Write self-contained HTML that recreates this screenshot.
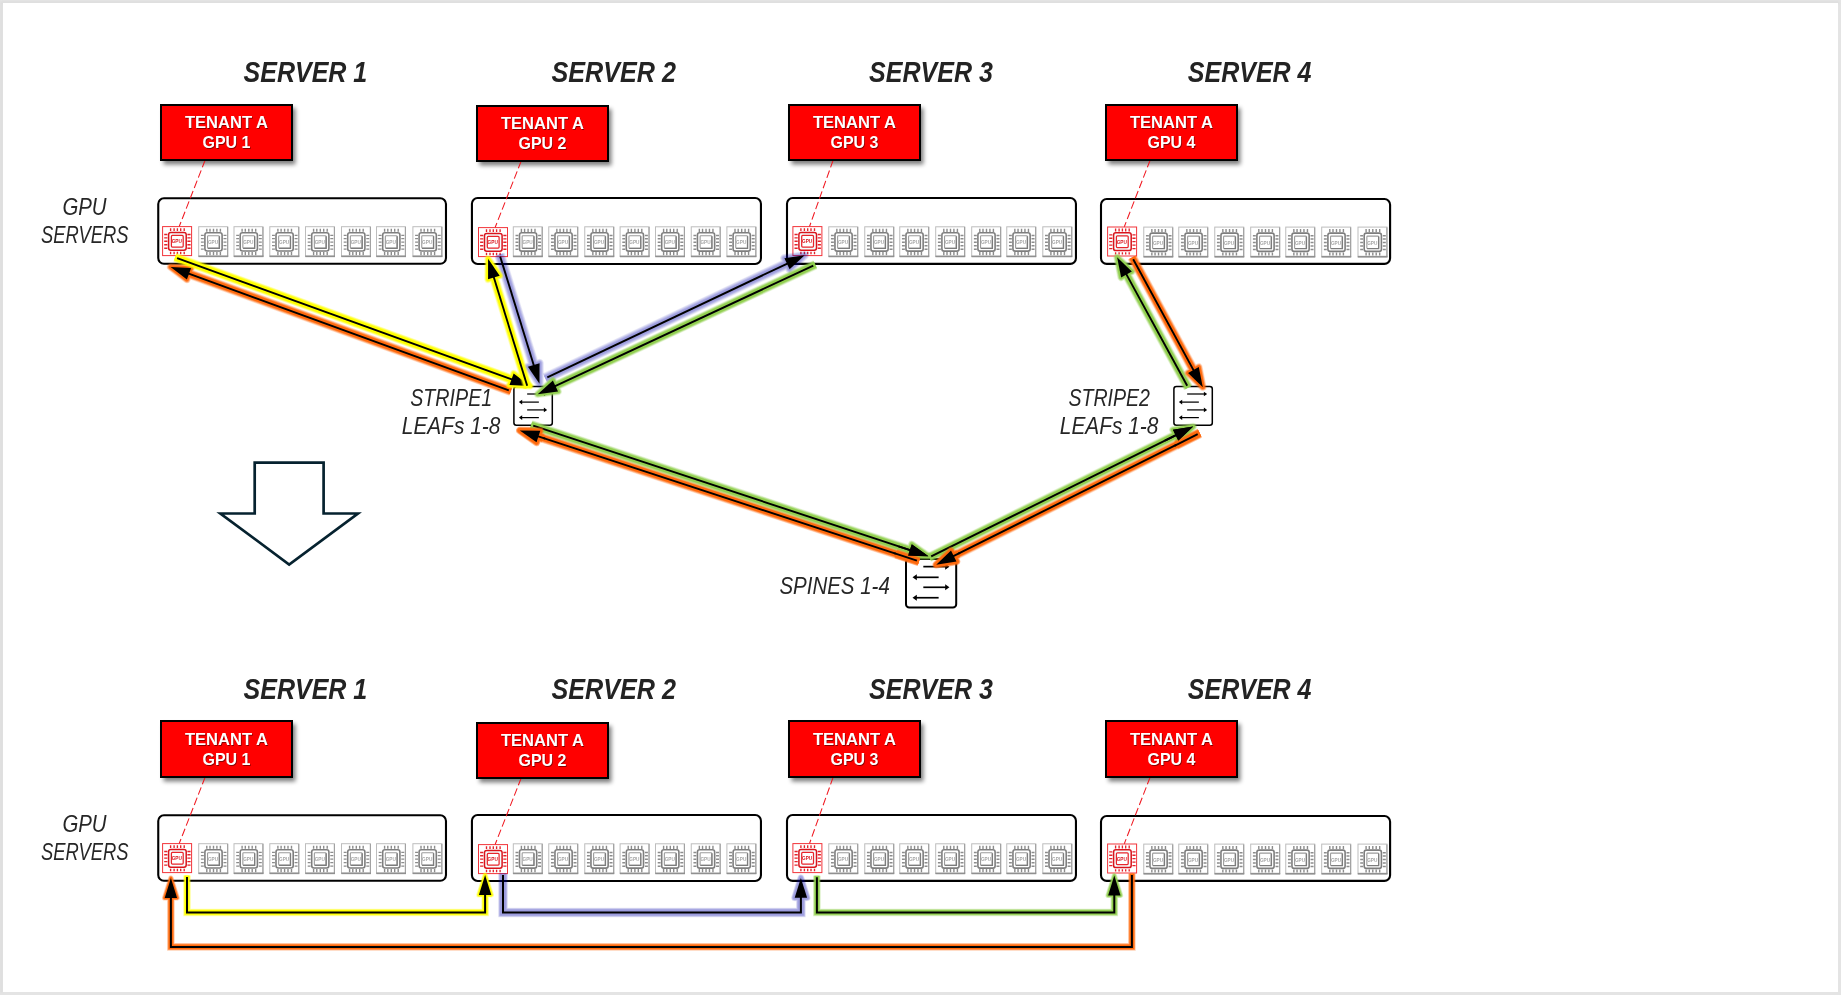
<!DOCTYPE html>
<html lang="en"><head><meta charset="utf-8"><title>GPU fabric diagram</title>
<style>
html,body{margin:0;padding:0;background:#e4e4e4;}
body{width:1841px;height:995px;overflow:hidden;font-family:"Liberation Sans",sans-serif;}
svg{display:block;position:absolute;left:0;top:0;will-change:transform;}
text{font-family:"Liberation Sans",sans-serif;}
.bi{font-weight:bold;font-style:italic;fill:#232323;}
.it{font-style:italic;fill:#262626;}
.tb{font-weight:bold;fill:#fff;}
.ts{font-weight:bold;fill:#8a0000;}
</style></head><body>
<svg width="1841" height="995" viewBox="0 0 1841 995">
<defs>
<filter id="sh" x="-10%" y="-20%" width="130%" height="160%"><feGaussianBlur stdDeviation="2.2"/></filter>
<filter id="bd" x="-5%" y="-5%" width="110%" height="110%"><feGaussianBlur stdDeviation="1.2"/></filter>
<symbol id="gr" viewBox="0 0 30 30" overflow="visible">
<rect x="0.5" y="0.5" width="29" height="29" fill="#fff" stroke="#f2343a" stroke-width="1"/>
<path d="M8.5 2.1V4.9M8.5 25.7V28.1M12 2.1V4.9M12 25.7V28.1M15.3 2.1V4.9M15.3 25.7V28.1M18.6 2.1V4.9M18.6 25.7V28.1M22.1 2.1V4.9M22.1 25.7V28.1M2.1 8.4H5.3M25.3 8.4H28.5M2.1 11.7H5.3M25.3 11.7H28.5M2.1 15.1H5.3M25.3 15.1H28.5M2.1 18.6H5.3M25.3 18.6H28.5M2.1 22.1H5.3M25.3 22.1H28.5" stroke="#e3222a" stroke-width="1.35" fill="none"/>
<rect x="6.5" y="6.3" width="17.6" height="17.8" rx="2.2" fill="#f4ffff" stroke="#d9141c" stroke-width="1.5"/>
<rect x="9.3" y="9.3" width="11.8" height="11.7" rx="1" fill="#fff" stroke="#e8242b" stroke-width="1.25"/>
<text x="9.6" y="17.2" font-size="5.8" font-weight="bold" textLength="10.2" lengthAdjust="spacingAndGlyphs" fill="#d8141c">GPU</text>
</symbol>
<symbol id="gg" viewBox="0 0 30 31" overflow="visible">
<rect x="0.5" y="0.5" width="29" height="29.7" fill="#fff" stroke="#bdbdbd" stroke-width="1"/>
<path d="M29.4 0.8V30.2" fill="none" stroke="#a2a2a2" stroke-width="1.2"/>
<path d="M0.3 30.1H30" fill="none" stroke="#909090" stroke-width="1.7"/>
<path d="M8.6 2.5V5.6M8.6 25.8V29M11.8 2.5V5.6M11.8 25.8V29M15.3 2.5V5.6M15.3 25.8V29M18.7 2.5V5.6M18.7 25.8V29M22.2 2.5V5.6M22.2 25.8V29M2.7 9.2H5.6M25.3 9.2H28.3M2.7 12.4H5.6M25.3 12.4H28.3M2.7 15.9H5.6M25.3 15.9H28.3M2.7 19.4H5.6M25.3 19.4H28.3M2.7 22.9H5.6M25.3 22.9H28.3" stroke="#8c8c8c" stroke-width="1.4" fill="none"/>
<rect x="6.7" y="6.5" width="17.2" height="18.3" rx="2.2" fill="#fff" stroke="#7e7e7e" stroke-width="1.6"/>
<rect x="9.35" y="9.5" width="11.7" height="12.45" rx="0.8" fill="#fff" stroke="#9c9c9c" stroke-width="1.1"/>
<path d="M9.6 22.1H21.2V10" fill="none" stroke="#7c7c7c" stroke-width="1.3"/>
<text x="9.7" y="18.0" font-size="5.6" font-weight="bold" textLength="10.2" lengthAdjust="spacingAndGlyphs" fill="#a6a6a6">GPU</text>
</symbol>
<symbol id="leaf" viewBox="0 0 38.4 38.8" overflow="visible">
<rect x="0" y="0" width="38.4" height="38.8" rx="2.5" fill="#fff" stroke="#000" stroke-width="1.5"/>
<path d="M13.25 7.6H31.26" stroke="#000" stroke-width="1.25"/>
<path d="M33.22 7.6L29.95 5.3L29.95 9.91Z" fill="#000"/>
<path d="M6.95 15.71H24.96" stroke="#000" stroke-width="1.25"/>
<path d="M4.99 15.71L8.26 13.41L8.26 18.02Z" fill="#000"/>
<path d="M13.25 23.51H31.26" stroke="#000" stroke-width="1.25"/>
<path d="M33.22 23.51L29.95 21.21L29.95 25.82Z" fill="#000"/>
<path d="M6.95 31.2H24.96" stroke="#000" stroke-width="1.25"/>
<path d="M4.99 31.2L8.26 28.89L8.26 33.5Z" fill="#000"/>
</symbol>
<symbol id="spine" viewBox="0 0 50.2 48.6" overflow="visible">
<rect x="0" y="0" width="50.2" height="48.6" rx="3.26" fill="#fff" stroke="#000" stroke-width="2"/>
<path d="M17.32 7.63H40.86" stroke="#000" stroke-width="1.7"/>
<path d="M43.42 7.63L39.16 4.62L39.16 10.64Z" fill="#000"/>
<path d="M9.09 18.32H32.63" stroke="#000" stroke-width="1.7"/>
<path d="M6.53 18.32L10.79 15.31L10.79 21.33Z" fill="#000"/>
<path d="M17.32 28.29H40.86" stroke="#000" stroke-width="1.7"/>
<path d="M43.42 28.29L39.16 25.27L39.16 31.3Z" fill="#000"/>
<path d="M9.09 38.73H32.63" stroke="#000" stroke-width="1.7"/>
<path d="M6.53 38.73L10.79 35.72L10.79 41.75Z" fill="#000"/>
</symbol>
</defs>
<rect x="0" y="0" width="1841" height="995" fill="#e4e4e4"/>
<path d="M1.5 993V2.6H1839" fill="none" stroke="#dadada" stroke-width="1.6" filter="url(#bd)"/>
<rect x="3" y="3" width="1835" height="989" fill="#fff"/>
<text x="243.55" y="82" font-size="29.9" textLength="123.7" lengthAdjust="spacingAndGlyphs" class="bi">SERVER 1</text>
<text x="551.55" y="82" font-size="29.9" textLength="124.45" lengthAdjust="spacingAndGlyphs" class="bi">SERVER 2</text>
<text x="869.05" y="82" font-size="29.9" textLength="123.95" lengthAdjust="spacingAndGlyphs" class="bi">SERVER 3</text>
<text x="1187.8" y="82" font-size="29.9" textLength="123.7" lengthAdjust="spacingAndGlyphs" class="bi">SERVER 4</text>
<text x="62.4" y="214.6" font-size="24.2" textLength="44.2" lengthAdjust="spacingAndGlyphs" class="it">GPU</text>
<text x="41" y="242.9" font-size="24.2" textLength="87.5" lengthAdjust="spacingAndGlyphs" class="it">SERVERS</text>
<rect x="158.25" y="198.25" width="287.73" height="65.55" rx="5.7" fill="#fff" stroke="#000" stroke-width="2.1"/>
<use href="#gr" x="162.1" y="226.1" width="30" height="30"/>
<use href="#gg" x="198.2" y="226.2" width="30" height="31"/>
<use href="#gg" x="233.5" y="226.2" width="30" height="31"/>
<use href="#gg" x="269.3" y="226.2" width="30" height="31"/>
<use href="#gg" x="305" y="226.2" width="30" height="31"/>
<use href="#gg" x="341" y="226.2" width="30" height="31"/>
<use href="#gg" x="376" y="226.2" width="30" height="31"/>
<use href="#gg" x="412.4" y="226.2" width="30" height="31"/>
<rect x="163.5" y="108" width="132" height="56.5" fill="#000" opacity="0.5" filter="url(#sh)"/>
<line x1="205.2" y1="160" x2="179.3" y2="226.3" stroke="#f01820" stroke-width="1.05" stroke-dasharray="7.8 3.3"/>
<rect x="161" y="105" width="131" height="55" fill="#ff0000" stroke="#000" stroke-width="2"/>
<text x="185.6" y="129" font-size="17" textLength="83.2" lengthAdjust="spacingAndGlyphs" class="ts">TENANT A</text>
<text x="203.2" y="149" font-size="17" textLength="48" lengthAdjust="spacingAndGlyphs" class="ts">GPU 1</text>
<text x="184.9" y="128" font-size="17" textLength="83.2" lengthAdjust="spacingAndGlyphs" class="tb">TENANT A</text>
<text x="202.5" y="148" font-size="17" textLength="48" lengthAdjust="spacingAndGlyphs" class="tb">GPU 1</text>
<rect x="471.93" y="198.04" width="289.02" height="65.96" rx="5.7" fill="#fff" stroke="#000" stroke-width="2.1"/>
<use href="#gr" x="478" y="227.1" width="30" height="30"/>
<use href="#gg" x="512.8" y="226.3" width="30" height="31"/>
<use href="#gg" x="548.25" y="226.3" width="30" height="31"/>
<use href="#gg" x="584.25" y="226.3" width="30" height="31"/>
<use href="#gg" x="619.6" y="226.3" width="30" height="31"/>
<use href="#gg" x="655" y="226.3" width="30" height="31"/>
<use href="#gg" x="690.75" y="226.3" width="30" height="31"/>
<use href="#gg" x="726.4" y="226.3" width="30" height="31"/>
<rect x="479.5" y="109" width="132" height="56.5" fill="#000" opacity="0.5" filter="url(#sh)"/>
<line x1="521.2" y1="161" x2="495.2" y2="227.3" stroke="#f01820" stroke-width="1.05" stroke-dasharray="7.8 3.3"/>
<rect x="477" y="106" width="131" height="55" fill="#ff0000" stroke="#000" stroke-width="2"/>
<text x="501.6" y="130" font-size="17" textLength="83.2" lengthAdjust="spacingAndGlyphs" class="ts">TENANT A</text>
<text x="519.2" y="150" font-size="17" textLength="48" lengthAdjust="spacingAndGlyphs" class="ts">GPU 2</text>
<text x="500.9" y="129" font-size="17" textLength="83.2" lengthAdjust="spacingAndGlyphs" class="tb">TENANT A</text>
<text x="518.5" y="149" font-size="17" textLength="48" lengthAdjust="spacingAndGlyphs" class="tb">GPU 2</text>
<rect x="787" y="198.04" width="288.95" height="65.86" rx="5.7" fill="#fff" stroke="#000" stroke-width="2.1"/>
<use href="#gr" x="792.4" y="226.1" width="30" height="30"/>
<use href="#gg" x="828.25" y="226.3" width="30" height="31"/>
<use href="#gg" x="864.25" y="226.3" width="30" height="31"/>
<use href="#gg" x="899.25" y="226.3" width="30" height="31"/>
<use href="#gg" x="935.2" y="226.3" width="30" height="31"/>
<use href="#gg" x="971.2" y="226.3" width="30" height="31"/>
<use href="#gg" x="1006.25" y="226.3" width="30" height="31"/>
<use href="#gg" x="1042.3" y="226.3" width="30" height="31"/>
<rect x="791.5" y="108" width="132" height="56.5" fill="#000" opacity="0.5" filter="url(#sh)"/>
<line x1="833.2" y1="160" x2="809.6" y2="226.3" stroke="#f01820" stroke-width="1.05" stroke-dasharray="7.8 3.3"/>
<rect x="789" y="105" width="131" height="55" fill="#ff0000" stroke="#000" stroke-width="2"/>
<text x="813.6" y="129" font-size="17" textLength="83.2" lengthAdjust="spacingAndGlyphs" class="ts">TENANT A</text>
<text x="831.2" y="149" font-size="17" textLength="48" lengthAdjust="spacingAndGlyphs" class="ts">GPU 3</text>
<text x="812.9" y="128" font-size="17" textLength="83.2" lengthAdjust="spacingAndGlyphs" class="tb">TENANT A</text>
<text x="830.5" y="148" font-size="17" textLength="48" lengthAdjust="spacingAndGlyphs" class="tb">GPU 3</text>
<rect x="1101" y="199" width="289.1" height="64.9" rx="5.7" fill="#fff" stroke="#000" stroke-width="2.1"/>
<use href="#gr" x="1107.1" y="226.5" width="30" height="30"/>
<use href="#gg" x="1143.25" y="226.6" width="30" height="31"/>
<use href="#gg" x="1178.25" y="226.6" width="30" height="31"/>
<use href="#gg" x="1214.25" y="226.6" width="30" height="31"/>
<use href="#gg" x="1250.2" y="226.6" width="30" height="31"/>
<use href="#gg" x="1285.25" y="226.6" width="30" height="31"/>
<use href="#gg" x="1321.2" y="226.6" width="30" height="31"/>
<use href="#gg" x="1357.5" y="226.6" width="30" height="31"/>
<rect x="1108.5" y="108" width="132" height="56.5" fill="#000" opacity="0.5" filter="url(#sh)"/>
<line x1="1150.2" y1="160" x2="1124.3" y2="226.7" stroke="#f01820" stroke-width="1.05" stroke-dasharray="7.8 3.3"/>
<rect x="1106" y="105" width="131" height="55" fill="#ff0000" stroke="#000" stroke-width="2"/>
<text x="1130.6" y="129" font-size="17" textLength="83.2" lengthAdjust="spacingAndGlyphs" class="ts">TENANT A</text>
<text x="1148.2" y="149" font-size="17" textLength="48" lengthAdjust="spacingAndGlyphs" class="ts">GPU 4</text>
<text x="1129.9" y="128" font-size="17" textLength="83.2" lengthAdjust="spacingAndGlyphs" class="tb">TENANT A</text>
<text x="1147.5" y="148" font-size="17" textLength="48" lengthAdjust="spacingAndGlyphs" class="tb">GPU 4</text>
<use href="#leaf" x="513.9" y="386.4" width="38.4" height="38.8"/>
<use href="#leaf" x="1173.9" y="386.4" width="38.4" height="38.8"/>
<use href="#spine" x="906" y="559.0" width="50.2" height="48.6"/>
<text x="410.2" y="405.7" font-size="24" textLength="82" lengthAdjust="spacingAndGlyphs" class="it">STRIPE1</text>
<text x="401.8" y="433.8" font-size="24" textLength="98.6" lengthAdjust="spacingAndGlyphs" class="it">LEAFs 1-8</text>
<text x="1068.4" y="405.7" font-size="24" textLength="81.6" lengthAdjust="spacingAndGlyphs" class="it">STRIPE2</text>
<text x="1059.8" y="433.8" font-size="24" textLength="98.6" lengthAdjust="spacingAndGlyphs" class="it">LEAFs 1-8</text>
<text x="779.4" y="593.8" font-size="24" textLength="110.4" lengthAdjust="spacingAndGlyphs" class="it">SPINES 1-4</text>
<path d="M254.7 462.6H323.6V513.5H357.9L289.15 564.5L220.4 513.5H254.7Z" fill="#fff" stroke="#06222f" stroke-width="2.7" stroke-linejoin="miter"/>
<g>
<g stroke="#ff6a0d" fill="#ff6a0d" stroke-linejoin="round">
<g opacity="0.2">
<line x1="510.87" y1="391.15" x2="189.01" y2="273.72" stroke-width="10"/>
<polygon points="170.6,267 191.1,267.99 186.92,279.45" stroke-width="7.6"/>
</g>
<g opacity="0.35">
<line x1="510.87" y1="391.15" x2="189.01" y2="273.72" stroke-width="8.7"/>
<polygon points="170.6,267 191.1,267.99 186.92,279.45" stroke-width="6.3"/>
</g>
<g opacity="0.5">
<line x1="510.87" y1="391.15" x2="189.01" y2="273.72" stroke-width="7.3"/>
<polygon points="170.6,267 191.1,267.99 186.92,279.45" stroke-width="4.9"/>
</g>
<g>
<line x1="510.87" y1="391.15" x2="189.01" y2="273.72" stroke-width="6"/>
<polygon points="170.6,267 191.1,267.99 186.92,279.45" stroke-width="3.6"/>
</g>
</g>
<line x1="508.8" y1="390.4" x2="188.07" y2="273.38" stroke="#000" stroke-width="1.9"/>
<polygon points="170.6,267 191.1,267.99 186.92,279.45" fill="#000"/>
</g>
<g>
<g stroke="#ffff00" fill="#ffff00" stroke-linejoin="round">
<g opacity="0.2">
<line x1="175.03" y1="257.35" x2="511.57" y2="379.32" stroke-width="10"/>
<polygon points="530,386 509.49,385.06 513.65,373.59" stroke-width="7.6"/>
</g>
<g opacity="0.35">
<line x1="175.03" y1="257.35" x2="511.57" y2="379.32" stroke-width="8.7"/>
<polygon points="530,386 509.49,385.06 513.65,373.59" stroke-width="6.3"/>
</g>
<g opacity="0.5">
<line x1="175.03" y1="257.35" x2="511.57" y2="379.32" stroke-width="7.3"/>
<polygon points="530,386 509.49,385.06 513.65,373.59" stroke-width="4.9"/>
</g>
<g>
<line x1="175.03" y1="257.35" x2="511.57" y2="379.32" stroke-width="6"/>
<polygon points="530,386 509.49,385.06 513.65,373.59" stroke-width="3.6"/>
</g>
</g>
<line x1="177.1" y1="258.1" x2="512.51" y2="379.66" stroke="#000" stroke-width="1.9"/>
<polygon points="530,386 509.49,385.06 513.65,373.59" fill="#000"/>
</g>
<g>
<g stroke="#0000aa" fill="#0000aa" stroke-linejoin="round" opacity="0.38">
<g opacity="0.22">
<line x1="499.55" y1="254.5" x2="533.71" y2="364.97" stroke-width="11"/>
<polygon points="539.5,383.7 527.88,366.78 539.54,363.17" stroke-width="8.6"/>
</g>
<g opacity="0.3">
<line x1="499.55" y1="254.5" x2="533.71" y2="364.97" stroke-width="9.5"/>
<polygon points="539.5,383.7 527.88,366.78 539.54,363.17" stroke-width="7.1"/>
</g>
<g opacity="0.42">
<line x1="499.55" y1="254.5" x2="533.71" y2="364.97" stroke-width="8"/>
<polygon points="539.5,383.7 527.88,366.78 539.54,363.17" stroke-width="5.6"/>
</g>
<g opacity="0.6">
<line x1="499.55" y1="254.5" x2="533.71" y2="364.97" stroke-width="6.5"/>
<polygon points="539.5,383.7 527.88,366.78 539.54,363.17" stroke-width="4.1"/>
</g>
<g>
<line x1="499.55" y1="254.5" x2="533.71" y2="364.97" stroke-width="5"/>
<polygon points="539.5,383.7 527.88,366.78 539.54,363.17" stroke-width="2.6"/>
</g>
</g>
<line x1="500.2" y1="256.6" x2="534.01" y2="365.93" stroke="#000" stroke-width="1.9"/>
<polygon points="539.5,383.7 527.88,366.78 539.54,363.17" fill="#000"/>
</g>
<g>
<g stroke="#ffff00" fill="#ffff00" stroke-linejoin="round">
<g opacity="0.2">
<line x1="527.85" y1="387.8" x2="493.87" y2="277.53" stroke-width="10"/>
<polygon points="488.1,258.8 499.7,275.73 488.04,279.33" stroke-width="7.6"/>
</g>
<g opacity="0.35">
<line x1="527.85" y1="387.8" x2="493.87" y2="277.53" stroke-width="8.7"/>
<polygon points="488.1,258.8 499.7,275.73 488.04,279.33" stroke-width="6.3"/>
</g>
<g opacity="0.5">
<line x1="527.85" y1="387.8" x2="493.87" y2="277.53" stroke-width="7.3"/>
<polygon points="488.1,258.8 499.7,275.73 488.04,279.33" stroke-width="4.9"/>
</g>
<g>
<line x1="527.85" y1="387.8" x2="493.87" y2="277.53" stroke-width="6"/>
<polygon points="488.1,258.8 499.7,275.73 488.04,279.33" stroke-width="3.6"/>
</g>
</g>
<line x1="527.2" y1="385.7" x2="493.58" y2="276.58" stroke="#000" stroke-width="1.9"/>
<polygon points="488.1,258.8 499.7,275.73 488.04,279.33" fill="#000"/>
</g>
<g>
<g stroke="#0000aa" fill="#0000aa" stroke-linejoin="round" opacity="0.38">
<g opacity="0.22">
<line x1="545.31" y1="378.34" x2="786.99" y2="263.7" stroke-width="11"/>
<polygon points="804.7,255.3 789.61,269.21 784.38,258.19" stroke-width="8.6"/>
</g>
<g opacity="0.3">
<line x1="545.31" y1="378.34" x2="786.99" y2="263.7" stroke-width="9.5"/>
<polygon points="804.7,255.3 789.61,269.21 784.38,258.19" stroke-width="7.1"/>
</g>
<g opacity="0.42">
<line x1="545.31" y1="378.34" x2="786.99" y2="263.7" stroke-width="8"/>
<polygon points="804.7,255.3 789.61,269.21 784.38,258.19" stroke-width="5.6"/>
</g>
<g opacity="0.6">
<line x1="545.31" y1="378.34" x2="786.99" y2="263.7" stroke-width="6.5"/>
<polygon points="804.7,255.3 789.61,269.21 784.38,258.19" stroke-width="4.1"/>
</g>
<g>
<line x1="545.31" y1="378.34" x2="786.99" y2="263.7" stroke-width="5"/>
<polygon points="804.7,255.3 789.61,269.21 784.38,258.19" stroke-width="2.6"/>
</g>
</g>
<line x1="547.3" y1="377.4" x2="787.89" y2="263.27" stroke="#000" stroke-width="1.9"/>
<polygon points="804.7,255.3 789.61,269.21 784.38,258.19" fill="#000"/>
</g>
<g>
<g stroke="#92d050" fill="#92d050" stroke-linejoin="round">
<g opacity="0.2">
<line x1="815.29" y1="264.67" x2="555.46" y2="385.91" stroke-width="10"/>
<polygon points="537.7,394.2 552.88,380.38 558.04,391.44" stroke-width="7.6"/>
</g>
<g opacity="0.35">
<line x1="815.29" y1="264.67" x2="555.46" y2="385.91" stroke-width="8.7"/>
<polygon points="537.7,394.2 552.88,380.38 558.04,391.44" stroke-width="6.3"/>
</g>
<g opacity="0.5">
<line x1="815.29" y1="264.67" x2="555.46" y2="385.91" stroke-width="7.3"/>
<polygon points="537.7,394.2 552.88,380.38 558.04,391.44" stroke-width="4.9"/>
</g>
<g>
<line x1="815.29" y1="264.67" x2="555.46" y2="385.91" stroke-width="6"/>
<polygon points="537.7,394.2 552.88,380.38 558.04,391.44" stroke-width="3.6"/>
</g>
</g>
<line x1="813.3" y1="265.6" x2="554.56" y2="386.33" stroke="#000" stroke-width="1.9"/>
<polygon points="537.7,394.2 552.88,380.38 558.04,391.44" fill="#000"/>
</g>
<g>
<g stroke="#ff6a0d" fill="#ff6a0d" stroke-linejoin="round">
<g opacity="0.2">
<line x1="918.99" y1="561.29" x2="538.42" y2="436.51" stroke-width="10"/>
<polygon points="519.8,430.4 540.32,430.71 536.52,442.3" stroke-width="7.6"/>
</g>
<g opacity="0.35">
<line x1="918.99" y1="561.29" x2="538.42" y2="436.51" stroke-width="8.7"/>
<polygon points="519.8,430.4 540.32,430.71 536.52,442.3" stroke-width="6.3"/>
</g>
<g opacity="0.5">
<line x1="918.99" y1="561.29" x2="538.42" y2="436.51" stroke-width="7.3"/>
<polygon points="519.8,430.4 540.32,430.71 536.52,442.3" stroke-width="4.9"/>
</g>
<g>
<line x1="918.99" y1="561.29" x2="538.42" y2="436.51" stroke-width="6"/>
<polygon points="519.8,430.4 540.32,430.71 536.52,442.3" stroke-width="3.6"/>
</g>
</g>
<line x1="916.9" y1="560.6" x2="537.47" y2="436.19" stroke="#000" stroke-width="1.9"/>
<polygon points="519.8,430.4 540.32,430.71 536.52,442.3" fill="#000"/>
</g>
<g>
<g stroke="#92d050" fill="#92d050" stroke-linejoin="round">
<g opacity="0.2">
<line x1="531.11" y1="424.91" x2="909.89" y2="550.05" stroke-width="10"/>
<polygon points="928.5,556.2 907.98,555.84 911.8,544.26" stroke-width="7.6"/>
</g>
<g opacity="0.35">
<line x1="531.11" y1="424.91" x2="909.89" y2="550.05" stroke-width="8.7"/>
<polygon points="928.5,556.2 907.98,555.84 911.8,544.26" stroke-width="6.3"/>
</g>
<g opacity="0.5">
<line x1="531.11" y1="424.91" x2="909.89" y2="550.05" stroke-width="7.3"/>
<polygon points="928.5,556.2 907.98,555.84 911.8,544.26" stroke-width="4.9"/>
</g>
<g>
<line x1="531.11" y1="424.91" x2="909.89" y2="550.05" stroke-width="6"/>
<polygon points="928.5,556.2 907.98,555.84 911.8,544.26" stroke-width="3.6"/>
</g>
</g>
<line x1="533.2" y1="425.6" x2="910.84" y2="550.37" stroke="#000" stroke-width="1.9"/>
<polygon points="928.5,556.2 907.98,555.84 911.8,544.26" fill="#000"/>
</g>
<g>
<g stroke="#ff6a0d" fill="#ff6a0d" stroke-linejoin="round">
<g opacity="0.2">
<line x1="543.18" y1="438.06" x2="538.42" y2="436.51" stroke-width="10"/>
<polygon points="519.8,430.4 540.32,430.71 536.52,442.3" stroke-width="7.6"/>
</g>
<g opacity="0.35">
<line x1="543.18" y1="438.06" x2="538.42" y2="436.51" stroke-width="8.7"/>
<polygon points="519.8,430.4 540.32,430.71 536.52,442.3" stroke-width="6.3"/>
</g>
<g opacity="0.5">
<line x1="543.18" y1="438.06" x2="538.42" y2="436.51" stroke-width="7.3"/>
<polygon points="519.8,430.4 540.32,430.71 536.52,442.3" stroke-width="4.9"/>
</g>
<g>
<line x1="543.18" y1="438.06" x2="538.42" y2="436.51" stroke-width="6"/>
<polygon points="519.8,430.4 540.32,430.71 536.52,442.3" stroke-width="3.6"/>
</g>
</g>
<line x1="545.08" y1="438.69" x2="537.47" y2="436.19" stroke="#000" stroke-width="1.9"/>
<polygon points="519.8,430.4 540.32,430.71 536.52,442.3" fill="#000"/>
</g>
<g>
<g stroke="#ff6a0d" fill="#ff6a0d" stroke-linejoin="round">
<g opacity="0.2">
<line x1="918.99" y1="561.29" x2="896" y2="553.75" stroke-width="10"/>
</g>
<g opacity="0.35">
<line x1="918.99" y1="561.29" x2="896" y2="553.75" stroke-width="8.7"/>
</g>
<g opacity="0.5">
<line x1="918.99" y1="561.29" x2="896" y2="553.75" stroke-width="7.3"/>
</g>
<g>
<line x1="918.99" y1="561.29" x2="896" y2="553.75" stroke-width="6"/>
</g>
</g>
<line x1="916.9" y1="560.6" x2="894.09" y2="553.12" stroke="#000" stroke-width="1.9"/>
</g>
<line x1="898.5" y1="546.29" x2="910.84" y2="550.37" stroke="#000" stroke-width="1.9"/>
<polygon points="928.5,556.2 907.98,555.84 911.8,544.26" fill="#000"/>
<g>
<g stroke="#ff6a0d" fill="#ff6a0d" stroke-linejoin="round">
<g opacity="0.2">
<line x1="1199.67" y1="433.22" x2="953.74" y2="555.95" stroke-width="10"/>
<polygon points="936.2,564.7 951.01,550.49 956.46,561.41" stroke-width="7.6"/>
</g>
<g opacity="0.35">
<line x1="1199.67" y1="433.22" x2="953.74" y2="555.95" stroke-width="8.7"/>
<polygon points="936.2,564.7 951.01,550.49 956.46,561.41" stroke-width="6.3"/>
</g>
<g opacity="0.5">
<line x1="1199.67" y1="433.22" x2="953.74" y2="555.95" stroke-width="7.3"/>
<polygon points="936.2,564.7 951.01,550.49 956.46,561.41" stroke-width="4.9"/>
</g>
<g>
<line x1="1199.67" y1="433.22" x2="953.74" y2="555.95" stroke-width="6"/>
<polygon points="936.2,564.7 951.01,550.49 956.46,561.41" stroke-width="3.6"/>
</g>
</g>
<line x1="1197.7" y1="434.2" x2="952.84" y2="556.39" stroke="#000" stroke-width="1.9"/>
<polygon points="936.2,564.7 951.01,550.49 956.46,561.41" fill="#000"/>
</g>
<g>
<g stroke="#92d050" fill="#92d050" stroke-linejoin="round">
<g opacity="0.2">
<line x1="929.23" y1="557.38" x2="1175.64" y2="435.3" stroke-width="10"/>
<polygon points="1193.2,426.6 1178.35,440.77 1172.93,429.83" stroke-width="7.6"/>
</g>
<g opacity="0.35">
<line x1="929.23" y1="557.38" x2="1175.64" y2="435.3" stroke-width="8.7"/>
<polygon points="1193.2,426.6 1178.35,440.77 1172.93,429.83" stroke-width="6.3"/>
</g>
<g opacity="0.5">
<line x1="929.23" y1="557.38" x2="1175.64" y2="435.3" stroke-width="7.3"/>
<polygon points="1193.2,426.6 1178.35,440.77 1172.93,429.83" stroke-width="4.9"/>
</g>
<g>
<line x1="929.23" y1="557.38" x2="1175.64" y2="435.3" stroke-width="6"/>
<polygon points="1193.2,426.6 1178.35,440.77 1172.93,429.83" stroke-width="3.6"/>
</g>
</g>
<line x1="931.2" y1="556.4" x2="1176.53" y2="434.86" stroke="#000" stroke-width="1.9"/>
<polygon points="1193.2,426.6 1178.35,440.77 1172.93,429.83" fill="#000"/>
</g>
<g>
<g stroke="#ff6a0d" fill="#ff6a0d" stroke-linejoin="round">
<g opacity="0.2">
<line x1="958.21" y1="553.72" x2="953.74" y2="555.95" stroke-width="10"/>
<polygon points="936.2,564.7 951.01,550.49 956.46,561.41" stroke-width="7.6"/>
</g>
<g opacity="0.35">
<line x1="958.21" y1="553.72" x2="953.74" y2="555.95" stroke-width="8.7"/>
<polygon points="936.2,564.7 951.01,550.49 956.46,561.41" stroke-width="6.3"/>
</g>
<g opacity="0.5">
<line x1="958.21" y1="553.72" x2="953.74" y2="555.95" stroke-width="7.3"/>
<polygon points="936.2,564.7 951.01,550.49 956.46,561.41" stroke-width="4.9"/>
</g>
<g>
<line x1="958.21" y1="553.72" x2="953.74" y2="555.95" stroke-width="6"/>
<polygon points="936.2,564.7 951.01,550.49 956.46,561.41" stroke-width="3.6"/>
</g>
</g>
<line x1="960" y1="552.82" x2="952.84" y2="556.39" stroke="#000" stroke-width="1.9"/>
<polygon points="936.2,564.7 951.01,550.49 956.46,561.41" fill="#000"/>
</g>
<g>
<g stroke="#ff6a0d" fill="#ff6a0d" stroke-linejoin="round">
<g opacity="0.2">
<line x1="1199.67" y1="433.22" x2="1176.23" y2="444.92" stroke-width="10"/>
</g>
<g opacity="0.35">
<line x1="1199.67" y1="433.22" x2="1176.23" y2="444.92" stroke-width="8.7"/>
</g>
<g opacity="0.5">
<line x1="1199.67" y1="433.22" x2="1176.23" y2="444.92" stroke-width="7.3"/>
</g>
<g>
<line x1="1199.67" y1="433.22" x2="1176.23" y2="444.92" stroke-width="6"/>
</g>
</g>
<line x1="1197.7" y1="434.2" x2="1174.44" y2="445.81" stroke="#000" stroke-width="1.9"/>
</g>
<line x1="1164.88" y1="440.63" x2="1176.53" y2="434.86" stroke="#000" stroke-width="1.9"/>
<polygon points="1193.2,426.6 1178.35,440.77 1172.93,429.83" fill="#000"/>
<g>
<g stroke="#92d050" fill="#92d050" stroke-linejoin="round">
<g opacity="0.2">
<line x1="1188.25" y1="387.63" x2="1126.49" y2="274.5" stroke-width="10"/>
<polygon points="1117.1,257.3 1131.85,271.58 1121.14,277.43" stroke-width="7.6"/>
</g>
<g opacity="0.35">
<line x1="1188.25" y1="387.63" x2="1126.49" y2="274.5" stroke-width="8.7"/>
<polygon points="1117.1,257.3 1131.85,271.58 1121.14,277.43" stroke-width="6.3"/>
</g>
<g opacity="0.5">
<line x1="1188.25" y1="387.63" x2="1126.49" y2="274.5" stroke-width="7.3"/>
<polygon points="1117.1,257.3 1131.85,271.58 1121.14,277.43" stroke-width="4.9"/>
</g>
<g>
<line x1="1188.25" y1="387.63" x2="1126.49" y2="274.5" stroke-width="6"/>
<polygon points="1117.1,257.3 1131.85,271.58 1121.14,277.43" stroke-width="3.6"/>
</g>
</g>
<line x1="1187.2" y1="385.7" x2="1126.01" y2="273.63" stroke="#000" stroke-width="1.9"/>
<polygon points="1117.1,257.3 1131.85,271.58 1121.14,277.43" fill="#000"/>
</g>
<g>
<g stroke="#ff6a0d" fill="#ff6a0d" stroke-linejoin="round">
<g opacity="0.2">
<line x1="1132.15" y1="257.37" x2="1193.43" y2="369.98" stroke-width="10"/>
<polygon points="1202.8,387.2 1188.07,372.9 1198.79,367.07" stroke-width="7.6"/>
</g>
<g opacity="0.35">
<line x1="1132.15" y1="257.37" x2="1193.43" y2="369.98" stroke-width="8.7"/>
<polygon points="1202.8,387.2 1188.07,372.9 1198.79,367.07" stroke-width="6.3"/>
</g>
<g opacity="0.5">
<line x1="1132.15" y1="257.37" x2="1193.43" y2="369.98" stroke-width="7.3"/>
<polygon points="1202.8,387.2 1188.07,372.9 1198.79,367.07" stroke-width="4.9"/>
</g>
<g>
<line x1="1132.15" y1="257.37" x2="1193.43" y2="369.98" stroke-width="6"/>
<polygon points="1202.8,387.2 1188.07,372.9 1198.79,367.07" stroke-width="3.6"/>
</g>
</g>
<line x1="1133.2" y1="259.3" x2="1193.91" y2="370.86" stroke="#000" stroke-width="1.9"/>
<polygon points="1202.8,387.2 1188.07,372.9 1198.79,367.07" fill="#000"/>
</g>
<text x="243.55" y="699" font-size="29.9" textLength="123.7" lengthAdjust="spacingAndGlyphs" class="bi">SERVER 1</text>
<text x="551.55" y="699" font-size="29.9" textLength="124.45" lengthAdjust="spacingAndGlyphs" class="bi">SERVER 2</text>
<text x="869.05" y="699" font-size="29.9" textLength="123.95" lengthAdjust="spacingAndGlyphs" class="bi">SERVER 3</text>
<text x="1187.8" y="699" font-size="29.9" textLength="123.7" lengthAdjust="spacingAndGlyphs" class="bi">SERVER 4</text>
<text x="62.4" y="831.6" font-size="24.2" textLength="44.2" lengthAdjust="spacingAndGlyphs" class="it">GPU</text>
<text x="41" y="859.9" font-size="24.2" textLength="87.5" lengthAdjust="spacingAndGlyphs" class="it">SERVERS</text>
<rect x="158.25" y="815.25" width="287.73" height="65.55" rx="5.7" fill="#fff" stroke="#000" stroke-width="2.1"/>
<use href="#gr" x="162.1" y="843.1" width="30" height="30"/>
<use href="#gg" x="198.2" y="843.2" width="30" height="31"/>
<use href="#gg" x="233.5" y="843.2" width="30" height="31"/>
<use href="#gg" x="269.3" y="843.2" width="30" height="31"/>
<use href="#gg" x="305" y="843.2" width="30" height="31"/>
<use href="#gg" x="341" y="843.2" width="30" height="31"/>
<use href="#gg" x="376" y="843.2" width="30" height="31"/>
<use href="#gg" x="412.4" y="843.2" width="30" height="31"/>
<rect x="163.5" y="724" width="132" height="57.5" fill="#000" opacity="0.5" filter="url(#sh)"/>
<line x1="205.2" y1="777" x2="179.3" y2="843.3" stroke="#f01820" stroke-width="1.05" stroke-dasharray="7.8 3.3"/>
<rect x="161" y="721" width="131" height="56" fill="#ff0000" stroke="#000" stroke-width="2"/>
<text x="185.6" y="746" font-size="17" textLength="83.2" lengthAdjust="spacingAndGlyphs" class="ts">TENANT A</text>
<text x="203.2" y="766" font-size="17" textLength="48" lengthAdjust="spacingAndGlyphs" class="ts">GPU 1</text>
<text x="184.9" y="745" font-size="17" textLength="83.2" lengthAdjust="spacingAndGlyphs" class="tb">TENANT A</text>
<text x="202.5" y="765" font-size="17" textLength="48" lengthAdjust="spacingAndGlyphs" class="tb">GPU 1</text>
<rect x="471.93" y="815.04" width="289.02" height="65.96" rx="5.7" fill="#fff" stroke="#000" stroke-width="2.1"/>
<use href="#gr" x="478" y="844.1" width="30" height="30"/>
<use href="#gg" x="512.8" y="843.3" width="30" height="31"/>
<use href="#gg" x="548.25" y="843.3" width="30" height="31"/>
<use href="#gg" x="584.25" y="843.3" width="30" height="31"/>
<use href="#gg" x="619.6" y="843.3" width="30" height="31"/>
<use href="#gg" x="655" y="843.3" width="30" height="31"/>
<use href="#gg" x="690.75" y="843.3" width="30" height="31"/>
<use href="#gg" x="726.4" y="843.3" width="30" height="31"/>
<rect x="479.5" y="726" width="132" height="56.5" fill="#000" opacity="0.5" filter="url(#sh)"/>
<line x1="521.2" y1="778" x2="495.2" y2="844.3" stroke="#f01820" stroke-width="1.05" stroke-dasharray="7.8 3.3"/>
<rect x="477" y="723" width="131" height="55" fill="#ff0000" stroke="#000" stroke-width="2"/>
<text x="501.6" y="747" font-size="17" textLength="83.2" lengthAdjust="spacingAndGlyphs" class="ts">TENANT A</text>
<text x="519.2" y="767" font-size="17" textLength="48" lengthAdjust="spacingAndGlyphs" class="ts">GPU 2</text>
<text x="500.9" y="746" font-size="17" textLength="83.2" lengthAdjust="spacingAndGlyphs" class="tb">TENANT A</text>
<text x="518.5" y="766" font-size="17" textLength="48" lengthAdjust="spacingAndGlyphs" class="tb">GPU 2</text>
<rect x="787" y="815.04" width="288.95" height="65.86" rx="5.7" fill="#fff" stroke="#000" stroke-width="2.1"/>
<use href="#gr" x="792.4" y="843.1" width="30" height="30"/>
<use href="#gg" x="828.25" y="843.3" width="30" height="31"/>
<use href="#gg" x="864.25" y="843.3" width="30" height="31"/>
<use href="#gg" x="899.25" y="843.3" width="30" height="31"/>
<use href="#gg" x="935.2" y="843.3" width="30" height="31"/>
<use href="#gg" x="971.2" y="843.3" width="30" height="31"/>
<use href="#gg" x="1006.25" y="843.3" width="30" height="31"/>
<use href="#gg" x="1042.3" y="843.3" width="30" height="31"/>
<rect x="791.5" y="724" width="132" height="57.5" fill="#000" opacity="0.5" filter="url(#sh)"/>
<line x1="833.2" y1="777" x2="809.6" y2="843.3" stroke="#f01820" stroke-width="1.05" stroke-dasharray="7.8 3.3"/>
<rect x="789" y="721" width="131" height="56" fill="#ff0000" stroke="#000" stroke-width="2"/>
<text x="813.6" y="746" font-size="17" textLength="83.2" lengthAdjust="spacingAndGlyphs" class="ts">TENANT A</text>
<text x="831.2" y="766" font-size="17" textLength="48" lengthAdjust="spacingAndGlyphs" class="ts">GPU 3</text>
<text x="812.9" y="745" font-size="17" textLength="83.2" lengthAdjust="spacingAndGlyphs" class="tb">TENANT A</text>
<text x="830.5" y="765" font-size="17" textLength="48" lengthAdjust="spacingAndGlyphs" class="tb">GPU 3</text>
<rect x="1101" y="816" width="289.1" height="64.9" rx="5.7" fill="#fff" stroke="#000" stroke-width="2.1"/>
<use href="#gr" x="1107.1" y="843.5" width="30" height="30"/>
<use href="#gg" x="1143.25" y="843.6" width="30" height="31"/>
<use href="#gg" x="1178.25" y="843.6" width="30" height="31"/>
<use href="#gg" x="1214.25" y="843.6" width="30" height="31"/>
<use href="#gg" x="1250.2" y="843.6" width="30" height="31"/>
<use href="#gg" x="1285.25" y="843.6" width="30" height="31"/>
<use href="#gg" x="1321.2" y="843.6" width="30" height="31"/>
<use href="#gg" x="1357.5" y="843.6" width="30" height="31"/>
<rect x="1108.5" y="724" width="132" height="57.5" fill="#000" opacity="0.5" filter="url(#sh)"/>
<line x1="1150.2" y1="777" x2="1124.3" y2="843.7" stroke="#f01820" stroke-width="1.05" stroke-dasharray="7.8 3.3"/>
<rect x="1106" y="721" width="131" height="56" fill="#ff0000" stroke="#000" stroke-width="2"/>
<text x="1130.6" y="746" font-size="17" textLength="83.2" lengthAdjust="spacingAndGlyphs" class="ts">TENANT A</text>
<text x="1148.2" y="766" font-size="17" textLength="48" lengthAdjust="spacingAndGlyphs" class="ts">GPU 4</text>
<text x="1129.9" y="745" font-size="17" textLength="83.2" lengthAdjust="spacingAndGlyphs" class="tb">TENANT A</text>
<text x="1147.5" y="765" font-size="17" textLength="48" lengthAdjust="spacingAndGlyphs" class="tb">GPU 4</text>
<g>
<g stroke="#ff6a0d" fill="#ff6a0d" stroke-linejoin="round">
<g opacity="0.3">
<polyline points="1131.9,873.5 1131.9,946.9 170.9,946.9 170.9,897.9" fill="none" stroke-linejoin="miter" stroke-width="7.6"/>
<polygon points="170.9,878.1 177.1,897.9 164.7,897.9" stroke-width="5.4"/>
</g>
<g opacity="0.5">
<polyline points="1131.9,873.5 1131.9,946.9 170.9,946.9 170.9,897.9" fill="none" stroke-linejoin="miter" stroke-width="6.2"/>
<polygon points="170.9,878.1 177.1,897.9 164.7,897.9" stroke-width="4"/>
</g>
<g>
<polyline points="1131.9,873.5 1131.9,946.9 170.9,946.9 170.9,897.9" fill="none" stroke-linejoin="miter" stroke-width="4.8"/>
<polygon points="170.9,878.1 177.1,897.9 164.7,897.9" stroke-width="2.6"/>
</g>
</g>
<polyline points="1131.9,875.1 1131.9,946.9 170.9,946.9 170.9,896.9" fill="none" stroke="#000" stroke-width="2.0" stroke-linejoin="miter"/>
<polygon points="170.9,878.1 177.1,897.9 164.7,897.9" fill="#000"/>
</g>
<g>
<g stroke="#ffff00" fill="#ffff00" stroke-linejoin="round">
<g opacity="0.3">
<polyline points="187,875.5 187,912.45 485.1,912.45 485.1,894.9" fill="none" stroke-linejoin="miter" stroke-width="7.6"/>
<polygon points="485.1,875.1 491.3,894.9 478.9,894.9" stroke-width="5.4"/>
</g>
<g opacity="0.5">
<polyline points="187,875.5 187,912.45 485.1,912.45 485.1,894.9" fill="none" stroke-linejoin="miter" stroke-width="6.2"/>
<polygon points="485.1,875.1 491.3,894.9 478.9,894.9" stroke-width="4"/>
</g>
<g>
<polyline points="187,875.5 187,912.45 485.1,912.45 485.1,894.9" fill="none" stroke-linejoin="miter" stroke-width="4.8"/>
<polygon points="485.1,875.1 491.3,894.9 478.9,894.9" stroke-width="2.6"/>
</g>
</g>
<polyline points="187,877.1 187,912.45 485.1,912.45 485.1,893.9" fill="none" stroke="#000" stroke-width="2.0" stroke-linejoin="miter"/>
<polygon points="485.1,875.1 491.3,894.9 478.9,894.9" fill="#000"/>
</g>
<g>
<g stroke="#0000aa" fill="#0000aa" stroke-linejoin="round" opacity="0.38">
<g opacity="0.25">
<polyline points="503,873.5 503,912.45 800.9,912.45 800.9,897.7" fill="none" stroke-linejoin="miter" stroke-width="9.6"/>
<polygon points="800.9,877.9 807.1,897.7 794.7,897.7" stroke-width="7"/>
</g>
<g opacity="0.35">
<polyline points="503,873.5 503,912.45 800.9,912.45 800.9,897.7" fill="none" stroke-linejoin="miter" stroke-width="8.6"/>
<polygon points="800.9,877.9 807.1,897.7 794.7,897.7" stroke-width="6"/>
</g>
<g opacity="0.5">
<polyline points="503,873.5 503,912.45 800.9,912.45 800.9,897.7" fill="none" stroke-linejoin="miter" stroke-width="7.6"/>
<polygon points="800.9,877.9 807.1,897.7 794.7,897.7" stroke-width="5"/>
</g>
<g opacity="0.6">
<polyline points="503,873.5 503,912.45 800.9,912.45 800.9,897.7" fill="none" stroke-linejoin="miter" stroke-width="6.6"/>
<polygon points="800.9,877.9 807.1,897.7 794.7,897.7" stroke-width="4"/>
</g>
<g>
<polyline points="503,873.5 503,912.45 800.9,912.45 800.9,897.7" fill="none" stroke-linejoin="miter" stroke-width="5.6"/>
<polygon points="800.9,877.9 807.1,897.7 794.7,897.7" stroke-width="3"/>
</g>
</g>
<polyline points="503,875.1 503,912.45 800.9,912.45 800.9,896.7" fill="none" stroke="#000" stroke-width="2.0" stroke-linejoin="miter"/>
<polygon points="800.9,877.9 807.1,897.7 794.7,897.7" fill="#000"/>
</g>
<g>
<g stroke="#92d050" fill="#92d050" stroke-linejoin="round">
<g opacity="0.3">
<polyline points="816.9,875.7 816.9,912.45 1114.3,912.45 1114.3,895.4" fill="none" stroke-linejoin="miter" stroke-width="7.6"/>
<polygon points="1114.3,875.6 1120.5,895.4 1108.1,895.4" stroke-width="5.4"/>
</g>
<g opacity="0.5">
<polyline points="816.9,875.7 816.9,912.45 1114.3,912.45 1114.3,895.4" fill="none" stroke-linejoin="miter" stroke-width="6.2"/>
<polygon points="1114.3,875.6 1120.5,895.4 1108.1,895.4" stroke-width="4"/>
</g>
<g>
<polyline points="816.9,875.7 816.9,912.45 1114.3,912.45 1114.3,895.4" fill="none" stroke-linejoin="miter" stroke-width="4.8"/>
<polygon points="1114.3,875.6 1120.5,895.4 1108.1,895.4" stroke-width="2.6"/>
</g>
</g>
<polyline points="816.9,877.3 816.9,912.45 1114.3,912.45 1114.3,894.4" fill="none" stroke="#000" stroke-width="2.0" stroke-linejoin="miter"/>
<polygon points="1114.3,875.6 1120.5,895.4 1108.1,895.4" fill="#000"/>
</g>
</svg>
</body></html>
